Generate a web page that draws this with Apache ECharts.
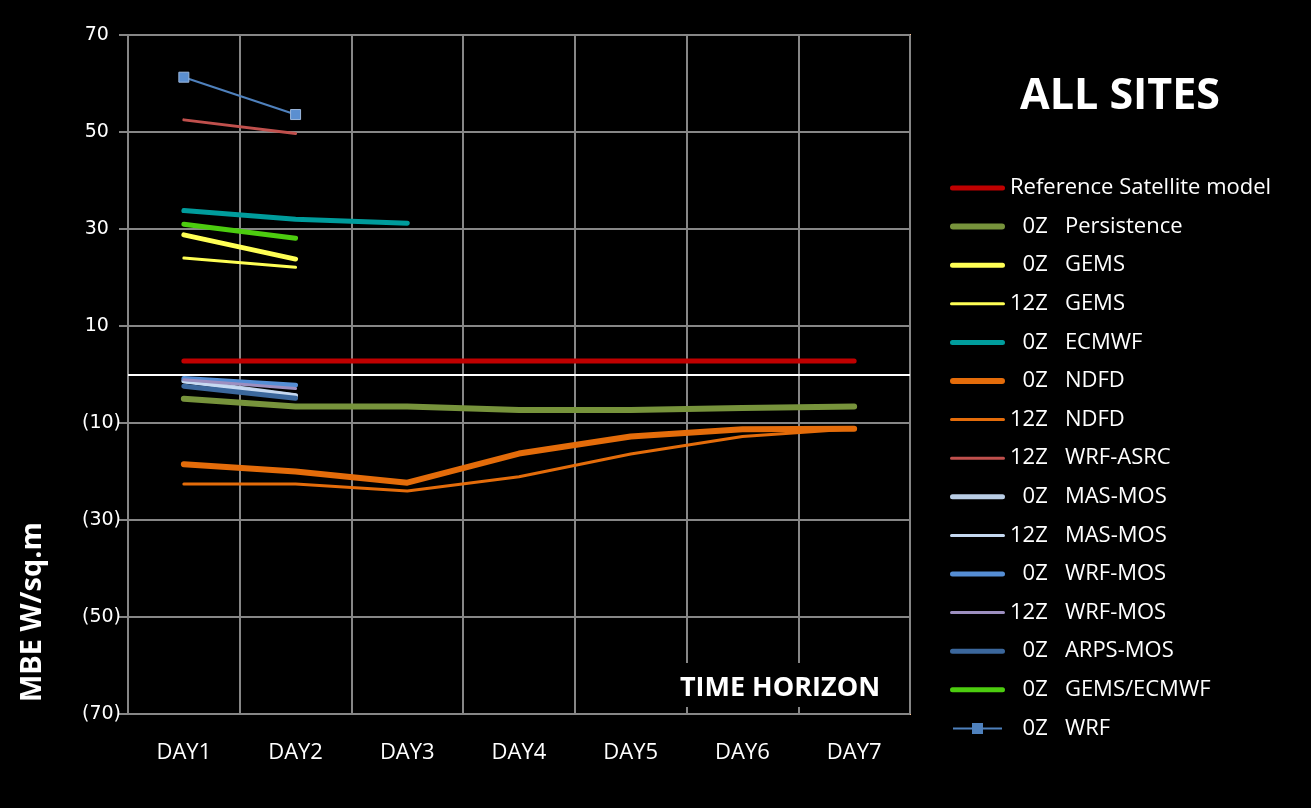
<!DOCTYPE html>
<html>
<head>
<meta charset="utf-8">
<script src="https://cdn.jsdelivr.net/npm/echarts@6/dist/echarts.min.js"></script>
<style>
  html, body { margin: 0; padding: 0; background: #000; }
  #chart { width: 1311px; height: 808px; }
</style>
</head>
<body>
<div id="chart"></div>
<script>
// Forecast horizon categories
const days = ['DAY1', 'DAY2', 'DAY3', 'DAY4', 'DAY5', 'DAY6', 'DAY7'];

// Mean bias error (W/sq.m) per model, by forecast day
const refSatellite = [2.8, 2.8, 2.8, 2.8, 2.8, 2.8, 2.8];
const persistence0z = [-5.0, -6.6, -6.6, -7.3, -7.3, -6.9, -6.6];
const gems0z = [28.8, 23.8];
const gems12z = [24.0, 22.1];
const ecmwf0z = [33.8, 32.0, 31.2];
const ndfd0z = [-18.5, -20.0, -22.3, -16.3, -12.8, -11.3, -11.2];
const ndfd12z = [-22.6, -22.6, -24.0, -21.1, -16.4, -12.8, -11.2];
const wrfAsrc12z = [52.5, 49.7];
const masMos0z = [-1.3, -4.4];
const masMos12z = [-1.5, -4.2];
const wrfMos0z = [-0.8, -2.2];
const wrfMos12z = [-1.1, -2.9];
const arpsMos0z = [-2.4, -4.9];
const gemsEcmwf0z = [31.0, 28.1];
const wrf0z = [61.3, 53.6];

// Y axis range and step
const yMin = -70, yMax = 70, yStep = 20;

const FS = '\u2007'; // figure space, aligns "0Z" under the "2Z" of "12Z"

// Legend swatch: a round-capped bar of thickness t, centred in a 55x20 box
function barIcon(t) {
  const r = t / 2, y0 = 10 - r, y1 = 10 + r;
  return 'path://M0,0L0,0Z' +
    'M' + r + ',' + y0 + 'L' + (55 - r) + ',' + y0 +
    'A' + r + ',' + r + ' 0 0 1 ' + (55 - r) + ',' + y1 +
    'L' + r + ',' + y1 +
    'A' + r + ',' + r + ' 0 0 1 ' + r + ',' + y0 + 'Z' +
    'M55,20L55,20Z';
}
// Legend swatch with a square marker in the middle of a thin line
function markerIcon() {
  return 'path://M0,0L0,0Z' +
    'M3,9L52,9L52,11L3,11Z' +
    'M22,4.5L33,4.5L33,15.5L22,15.5Z' +
    'M55,20L55,20Z';
}

function lineSeries(name, data, color, width, extra) {
  return Object.assign({
    name: name,
    type: 'line',
    data: data,
    symbol: 'none',
    showSymbol: false,
    silent: true,
    lineStyle: { color: color, width: width, cap: 'round', join: 'round' },
    itemStyle: { color: color },
    emphasis: { disabled: true }
  }, extra || {});
}

const series = [
  lineSeries('Reference Satellite model', refSatellite, '#c00000', 5, {
    markLine: {
      silent: true,
      symbol: 'none',
      label: { show: false },
      lineStyle: { color: '#ffffff', width: 2, type: 'solid' },
      data: [{ yAxis: 0 }],
      animation: false
    }
  }),
  lineSeries(FS + '0Z   Persistence', persistence0z, '#77933c', 6),
  lineSeries(FS + '0Z   GEMS', gems0z, '#ffff55', 5),
  lineSeries('12Z   GEMS', gems12z, '#ffff55', 3),
  lineSeries(FS + '0Z   ECMWF', ecmwf0z, '#009c9c', 5),
  lineSeries(FS + '0Z   NDFD', ndfd0z, '#e46c0a', 6),
  lineSeries('12Z   NDFD', ndfd12z, '#e46c0a', 3),
  lineSeries('12Z   WRF-ASRC', wrfAsrc12z, '#c0504d', 3),
  lineSeries(FS + '0Z   MAS-MOS', masMos0z, '#b9cde5', 5),
  lineSeries('12Z   MAS-MOS', masMos12z, '#c6d9f1', 3),
  lineSeries(FS + '0Z   WRF-MOS', wrfMos0z, '#558ed5', 5),
  lineSeries('12Z   WRF-MOS', wrfMos12z, '#9d8fc0', 3),
  lineSeries(FS + '0Z   ARPS-MOS', arpsMos0z, '#3b679c', 5),
  lineSeries(FS + '0Z   GEMS/ECMWF', gemsEcmwf0z, '#4ccc0f', 5),
  lineSeries(FS + '0Z   WRF', wrf0z, '#4f81bd', 2, {
    symbol: 'rect',
    showSymbol: true,
    symbolSize: 10,
    itemStyle: { color: '#5b8fd0', borderColor: '#9bb7dc', borderWidth: 1 }
  })
];

const legendData = series.map(function (s) {
  if (s.symbol === 'rect') {
    return { name: s.name, icon: markerIcon(), itemStyle: { color: '#4f81bd', borderWidth: 0 } };
  }
  return { name: s.name, icon: barIcon(s.lineStyle.width), itemStyle: { color: s.lineStyle.color, borderWidth: 0 } };
});

const chart = echarts.init(document.getElementById('chart'), null, { renderer: 'canvas' });

chart.setOption({
  backgroundColor: '#000000',
  animation: false,
  grid: {
    left: 128, right: 401, top: 35, bottom: 94,
    show: true,
    borderColor: '#fac090',
    borderWidth: 2,
    backgroundColor: 'transparent'
  },
  xAxis: {
    type: 'category',
    data: days,
    boundaryGap: true,
    axisLine: { show: false },
    axisTick: { show: true, inside: true, length: 6, lineStyle: { color: '#868686', width: 2 } },
    splitLine: { show: true, lineStyle: { color: '#868686', width: 2 } },
    axisLabel: {
      color: '#ffffff',
      fontFamily: 'Open Sans',
      fontSize: 22,
      margin: 28
    }
  },
  yAxis: {
    type: 'value',
    min: yMin,
    max: yMax,
    interval: yStep,
    axisLine: { show: true, lineStyle: { color: '#868686', width: 2 } },
    axisTick: { show: true, inside: false, length: 9, lineStyle: { color: '#868686', width: 2 } },
    splitLine: { show: true, lineStyle: { color: '#868686', width: 2 } },
    axisLabel: {
      color: '#ffffff',
      fontFamily: 'DejaVu Sans',
      fontSize: 19,
      margin: 7,
      formatter: function (v) {
        return v < 0 ? '(' + Math.abs(v) + ')' : v + '  ';
      }
    }
  },
  legend: {
    orient: 'vertical',
    left: 945,
    top: 172,
    itemWidth: 55,
    itemHeight: 20,
    itemGap: 16.6,
    selectedMode: false,
    textStyle: {
      color: '#ffffff',
      fontFamily: 'Open Sans',
      fontSize: 22,
      lineHeight: 20
    },
    data: legendData
  },
  graphic: [
    {
      type: 'text',
      style: {
        text: 'ALL SITES',
        x: 1120,
        y: 97,
        fill: '#ffffff',
        font: 'bold 43px "Open Sans"',
        textAlign: 'center',
        textVerticalAlign: 'middle'
      }
    },
    {
      type: 'rect',
      z: 5,
      shape: { x: 655, y: 663, width: 250, height: 44 },
      style: { fill: '#000000' }
    },
    {
      type: 'text',
      z: 6,
      style: {
        text: 'TIME HORIZON',
        x: 780,
        y: 688,
        fill: '#ffffff',
        font: 'bold 27px "Open Sans"',
        textAlign: 'center',
        textVerticalAlign: 'middle'
      }
    },
    {
      type: 'text',
      z: 6,
      x: 33,
      y: 612,
      rotation: Math.PI / 2,
      style: {
        text: 'MBE W/sq.m',
        x: 0,
        y: 0,
        fill: '#ffffff',
        font: 'bold 29px "Open Sans"',
        textAlign: 'center',
        textVerticalAlign: 'middle'
      }
    }
  ],
  series: series
});
</script>
</body>
</html>
